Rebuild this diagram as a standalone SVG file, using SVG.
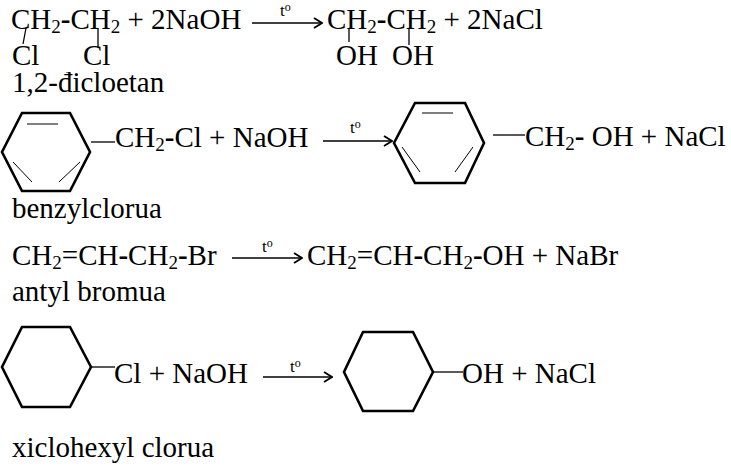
<svg xmlns="http://www.w3.org/2000/svg" width="731" height="466" viewBox="0 0 731 466">
<defs>
<style>
text{font-family:"Liberation Serif","Times New Roman",serif;fill:#000}
.m{font-size:29px}
.s{font-size:19px}
.b{font-weight:bold}
.t{font-size:17px}
.o{font-size:12px}
.ring{fill:none;stroke:#000;stroke-width:2.6;stroke-linejoin:miter}
.in{stroke:#000;stroke-width:1;fill:none}
.bd{stroke:#000;stroke-width:1.3;fill:none}
.ar{stroke:#000;stroke-width:1.5;fill:none}
</style>
<marker id="ah" viewBox="0 0 10 12" refX="9" refY="6" markerWidth="10" markerHeight="12" markerUnits="userSpaceOnUse" orient="auto">
<path d="M1,1 L9,6 L1,11" fill="none" stroke="#000" stroke-width="1.8"/>
</marker>
</defs>
<rect width="731" height="466" fill="#fff"/>

<g id="reaction1-reactant">
<text class="m" x="11" y="29">CH<tspan class="s" dy="4">2</tspan><tspan class="b" dy="-4">-</tspan>CH<tspan class="s" dy="4">2</tspan><tspan dy="-4"> + 2NaOH</tspan></text>
<text class="m" y="65"><tspan x="12">Cl</tspan><tspan x="83">Cl</tspan></text>
<text class="m" x="12" y="92">1,2-đicloetan</text>
</g>
<g id="reaction1-product">
<text class="m" x="327" y="29">CH<tspan class="s" dy="4">2</tspan><tspan class="b" dy="-4">-</tspan>CH<tspan class="s" dy="4">2</tspan><tspan dy="-4"> + 2NaCl</tspan></text>
<text class="m" y="65"><tspan x="336">OH</tspan><tspan x="392">OH</tspan></text>
</g>

<g id="reaction2-reactant">
<polygon class="ring" points="22,113 70,113 90,152 70,191 22,191 2,152"/>
<line class="in" x1="27" y1="124" x2="58" y2="124"/>
<line class="in" x1="13" y1="162" x2="32" y2="182"/>
<line class="in" x1="59" y1="182" x2="80" y2="162"/>
<text class="m" x="115" y="147">CH<tspan class="s" dy="4">2</tspan><tspan class="b" dy="-4">-</tspan>Cl + NaOH</text>
<text class="m" x="12" y="218">benzylclorua</text>
</g>
<g id="reaction2-product">
<polygon class="ring" points="415,103 465,103 484,143 465,183 415,183 394,143"/>
<line class="in" x1="422" y1="113" x2="453" y2="113"/>
<line class="in" x1="402" y1="147" x2="420" y2="172"/>
<line class="in" x1="455" y1="172" x2="473" y2="147"/>
<text class="m" x="525" y="146">CH<tspan class="s" dy="4">2</tspan><tspan class="b" dy="-4">-</tspan> OH + NaCl</text>
</g>

<g id="reaction3-reactant">
<text class="m" x="12" y="265">CH<tspan class="s" dy="4">2</tspan><tspan dy="-4">=CH</tspan><tspan class="b">-</tspan>CH<tspan class="s" dy="4">2</tspan><tspan class="b" dy="-4">-</tspan>Br</text>
<text class="m" x="12" y="301">antyl bromua</text>
</g>
<g id="reaction3-product">
<text class="m" x="307" y="265">CH<tspan class="s" dy="4">2</tspan><tspan dy="-4">=CH</tspan><tspan class="b">-</tspan>CH<tspan class="s" dy="4">2</tspan><tspan class="b" dy="-4">-</tspan>OH + NaBr</text>
</g>

<g id="reaction4-reactant">
<polygon class="ring" points="22,327 70,327 91,367 70,407 22,407 2,367"/>
<text class="m" x="114" y="383">Cl + NaOH</text>
<text class="m" x="12" y="457">xiclohexyl clorua</text>
</g>
<g id="reaction4-product">
<polygon class="ring" points="363,332 413,332 433,372 413,411 363,411 344,372"/>
<text class="m" x="462" y="383">OH + NaCl</text>
</g>

<g id="conditions">
<text x="280" y="16"><tspan class="t">t</tspan><tspan class="o" dy="-5">o</tspan></text>
<text x="350" y="133"><tspan class="t">t</tspan><tspan class="o" dy="-5">o</tspan></text>
<text x="262" y="252"><tspan class="t">t</tspan><tspan class="o" dy="-5">o</tspan></text>
<text x="290" y="372"><tspan class="t">t</tspan><tspan class="o" dy="-5">o</tspan></text>
</g>

<g id="connectors">
<line class="bd" x1="26" y1="28" x2="23" y2="44"/>
<line class="bd" x1="98" y1="28" x2="98" y2="47"/>
<line class="bd" x1="349" y1="28" x2="349" y2="42"/>
<line class="bd" x1="409" y1="28" x2="409" y2="45"/>
<line class="bd" x1="91" y1="142" x2="115" y2="142"/>
<line class="bd" x1="493" y1="135" x2="525" y2="135"/>
<line class="bd" x1="91" y1="367" x2="115" y2="367"/>
<line class="bd" x1="433" y1="372" x2="463" y2="372"/>
<line class="ar" x1="252" y1="23" x2="322" y2="23" marker-end="url(#ah)"/>
<line class="ar" x1="323" y1="141" x2="392" y2="141" marker-end="url(#ah)"/>
<line class="ar" x1="232" y1="258" x2="302" y2="258" marker-end="url(#ah)"/>
<line class="ar" x1="263" y1="377" x2="332" y2="377" marker-end="url(#ah)"/>
</g>
</svg>
